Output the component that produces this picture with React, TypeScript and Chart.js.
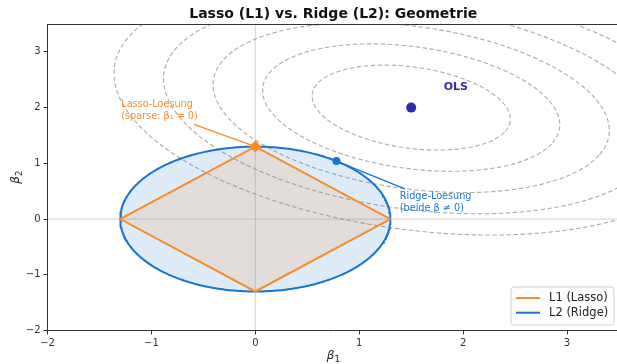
import React, { useEffect, useRef } from 'react';
import { Chart, registerables } from 'chart.js';

Chart.register(...registerables);

// ---- data ----
const xRange = [-2, 3.5];
const yRange = [-2, 3.5];
const tickValues = [-2, -1, 0, 1, 2, 3];
const olsPoint = [1.5, 2.0];
const lassoSolution = [0.0, 1.3];
const ridgeSolution = [0.78, 1.04];
const constraintRadius = [1.3];
const contourSemiMajor = [1.0, 1.5, 2.0, 2.5, 3.0];
const contourAspect = [0.7];
const contourAngleDeg = [-25];
const seriesLabels = ['L1 (Lasso)', 'L2 (Ridge)'];
const lassoNote = ['Lasso-Loesung', '(sparse: \u03b2\u2081 = 0)'];
const ridgeNote = ['Ridge-Loesung', '(beide \u03b2 \u2260 0)'];
const olsLabel = ['OLS'];
const titleText = 'Lasso (L1) vs. Ridge (L2): Geometrie';
const lassoNoteStart = [-0.59, 1.7];
const ridgeNoteStart = [1.44, 0.54];
const lassoNoteText = [-1.29, 2.05];
const ridgeNoteText = [1.39, 0.4];
const olsLabelText = [1.93, 2.37];

// ---- styles ----
const ORANGE = '#FA8C2C';
const BLUE = '#1874D2';
const OLS_COLOR = '#2D2DB0';
const FONT = 'DejaVu Sans';

function ellipsePoints(cx: number, cy: number, a: number, b: number, angDeg: number, n = 360) {
  const th = (angDeg * Math.PI) / 180;
  const c = Math.cos(th);
  const s = Math.sin(th);
  const pts: { x: number; y: number }[] = [];
  for (let i = 0; i <= n; i++) {
    const t = (2 * Math.PI * i) / n;
    const u = a * Math.cos(t);
    const v = b * Math.sin(t);
    pts.push({ x: cx + u * c - v * s, y: cy + u * s + v * c });
  }
  return pts;
}

function fmt(v: number) {
  return String(v).replace('-', '\u2212');
}

const polyFillPlugin = {
  id: 'polyFill',
  beforeDatasetDraw(chart: any, args: any) {
    const ds: any = chart.data.datasets[args.index];
    if (!ds.polyFill) return;
    const pts = args.meta.data;
    if (!pts.length) return;
    const ctx = chart.ctx;
    const ca = chart.chartArea;
    ctx.save();
    ctx.beginPath();
    ctx.rect(ca.left, ca.top, ca.right - ca.left, ca.bottom - ca.top);
    ctx.clip();
    ctx.beginPath();
    pts.forEach((p: any, i: number) => (i === 0 ? ctx.moveTo(p.x, p.y) : ctx.lineTo(p.x, p.y)));
    ctx.closePath();
    ctx.fillStyle = ds.polyFill;
    ctx.fill();
    ctx.restore();
  },
};

const decorPlugin = {
  id: 'decor',
  afterDraw(chart: any) {
    const ctx = chart.ctx;
    const ca = chart.chartArea;
    const xs = chart.scales.x;
    const ys = chart.scales.y;
    ctx.save();
    // frame top / right
    ctx.strokeStyle = '#333';
    ctx.lineWidth = 1;
    ctx.beginPath();
    ctx.moveTo(Math.round(ca.left) - 0.5, Math.round(ca.top) + 0.5);
    ctx.lineTo(ca.right, Math.round(ca.top) + 0.5);
    ctx.lineTo(ca.right, ca.bottom);
    ctx.stroke();

    // title
    ctx.fillStyle = '#111';
    ctx.font = `bold 14px "${FONT}"`;
    ctx.textAlign = 'center';
    ctx.textBaseline = 'middle';
    ctx.fillText(titleText, (ca.left + ca.right) / 2, 14);

    // axis titles
    const drawBeta = (sub: string, cx: number, cy: number) => {
      ctx.font = `italic 12px "${FONT}"`;
      const w1 = ctx.measureText('\u03b2').width;
      ctx.font = `8.5px "${FONT}"`;
      const w2 = ctx.measureText(sub).width;
      const x0 = cx - (w1 + w2) / 2;
      ctx.textAlign = 'left';
      ctx.textBaseline = 'alphabetic';
      ctx.font = `italic 12px "${FONT}"`;
      ctx.fillText('\u03b2', x0, cy + 4);
      ctx.font = `8.5px "${FONT}"`;
      ctx.fillText(sub, x0 + w1, cy + 6.5);
    };
    ctx.fillStyle = '#222';
    drawBeta('1', (ca.left + ca.right) / 2, 355);
    ctx.save();
    ctx.translate(15, (ca.top + ca.bottom) / 2);
    ctx.rotate(-Math.PI / 2);
    drawBeta('2', 0, 0);
    ctx.restore();

    // annotation texts
    ctx.font = `9.7px "${FONT}"`;
    ctx.textAlign = 'left';
    ctx.textBaseline = 'middle';
    ctx.fillStyle = ORANGE;
    const lx = xs.getPixelForValue(lassoNoteText[0]);
    const ly = ys.getPixelForValue(lassoNoteText[1]);
    lassoNote.forEach((t, i) => ctx.fillText(t, lx, ly + i * 11.5));
    ctx.fillStyle = BLUE;
    const rx = xs.getPixelForValue(ridgeNoteText[0]);
    const ry = ys.getPixelForValue(ridgeNoteText[1]);
    ridgeNote.forEach((t, i) => ctx.fillText(t, rx, ry + i * 11.5));

    // OLS label
    ctx.fillStyle = OLS_COLOR;
    ctx.font = `bold 11px "${FONT}"`;
    ctx.textAlign = 'center';
    ctx.fillText(olsLabel[0], xs.getPixelForValue(olsLabelText[0]), ys.getPixelForValue(olsLabelText[1]));

    // legend
    const lw = 103;
    const lh = 38;
    const lxr = ca.right - 5;
    const lyb = ca.bottom - 5.5;
    const bx = lxr - lw;
    const by = lyb - lh;
    ctx.beginPath();
    const r = 3;
    ctx.moveTo(bx + r, by);
    ctx.lineTo(bx + lw - r, by);
    ctx.quadraticCurveTo(bx + lw, by, bx + lw, by + r);
    ctx.lineTo(bx + lw, by + lh - r);
    ctx.quadraticCurveTo(bx + lw, by + lh, bx + lw - r, by + lh);
    ctx.lineTo(bx + r, by + lh);
    ctx.quadraticCurveTo(bx, by + lh, bx, by + lh - r);
    ctx.lineTo(bx, by + r);
    ctx.quadraticCurveTo(bx, by, bx + r, by);
    ctx.closePath();
    ctx.fillStyle = 'rgba(255,255,255,0.85)';
    ctx.fill();
    ctx.strokeStyle = '#d0d0d0';
    ctx.lineWidth = 1;
    ctx.stroke();
    const colors = [ORANGE, BLUE];
    seriesLabels.forEach((lab, i) => {
      const yy = by + 11 + i * 14.7;
      ctx.strokeStyle = colors[i];
      ctx.lineWidth = 2;
      ctx.beginPath();
      ctx.moveTo(bx + 5, yy);
      ctx.lineTo(bx + 29, yy);
      ctx.stroke();
      ctx.fillStyle = '#222';
      ctx.font = `11.5px "${FONT}"`;
      ctx.textAlign = 'left';
      ctx.textBaseline = 'middle';
      ctx.fillText(lab, bx + 38, yy);
    });
    ctx.restore();
  },
};

export default function App() {
  const ref = useRef<HTMLCanvasElement | null>(null);
  useEffect(() => {
    document.body.style.margin = '0';
    const canvas = ref.current;
    if (!canvas) return;
    const R = constraintRadius[0];
    const circle = ellipsePoints(0, 0, R, R, 0, 360);
    const diamond = [
      { x: R, y: 0 },
      { x: 0, y: R },
      { x: -R, y: 0 },
      { x: 0, y: -R },
      { x: R, y: 0 },
    ];
    const contourSets = contourSemiMajor.map((a) => ({
      data: ellipsePoints(olsPoint[0], olsPoint[1], a, a * contourAspect[0], contourAngleDeg[0], 400),
      showLine: true,
      borderColor: 'rgba(150,150,150,0.8)',
      borderWidth: 1.1,
      borderDash: [4.5, 2.5],
      pointRadius: 0,
      order: 9,
    }));
    const datasets: any[] = [
      {
        data: [
          { x: 0, y: yRange[0] },
          { x: 0, y: yRange[1] },
        ],
        showLine: true,
        borderColor: 'rgba(0,0,0,0.14)',
        borderWidth: 1.2,
        pointRadius: 0,
        order: 10,
      },
      {
        data: [
          { x: xRange[0], y: 0 },
          { x: xRange[1], y: 0 },
        ],
        showLine: true,
        borderColor: 'rgba(0,0,0,0.14)',
        borderWidth: 1.2,
        pointRadius: 0,
        order: 10,
      },
      ...contourSets,
      {
        label: seriesLabels[1],
        data: circle,
        showLine: true,
        borderColor: BLUE,
        borderWidth: 2,
        pointRadius: 0,
        polyFill: 'rgba(24,116,210,0.14)',
        order: 8,
      },
      {
        label: seriesLabels[0],
        data: diamond,
        showLine: true,
        borderColor: ORANGE,
        borderWidth: 2,
        pointRadius: 0,
        polyFill: 'rgba(250,140,44,0.15)',
        order: 7,
      },
      {
        data: [
          { x: lassoNoteStart[0], y: lassoNoteStart[1] },
          { x: lassoSolution[0], y: lassoSolution[1] },
        ],
        showLine: true,
        borderColor: ORANGE,
        borderWidth: 1.3,
        pointRadius: 0,
        order: 3,
      },
      {
        data: [
          { x: ridgeNoteStart[0], y: ridgeNoteStart[1] },
          { x: ridgeSolution[0], y: ridgeSolution[1] },
        ],
        showLine: true,
        borderColor: BLUE,
        borderWidth: 1.3,
        pointRadius: 0,
        order: 3,
      },
      {
        data: [{ x: lassoSolution[0], y: lassoSolution[1] }],
        pointStyle: 'rectRot',
        pointRadius: 6,
        backgroundColor: ORANGE,
        borderColor: ORANGE,
        borderWidth: 0,
        order: 1,
      },
      {
        data: [{ x: ridgeSolution[0], y: ridgeSolution[1] }],
        pointRadius: 4,
        backgroundColor: BLUE,
        borderColor: BLUE,
        borderWidth: 0,
        order: 1,
      },
      {
        data: [{ x: olsPoint[0], y: olsPoint[1] }],
        pointRadius: 5,
        backgroundColor: OLS_COLOR,
        borderColor: OLS_COLOR,
        borderWidth: 0,
        order: 1,
      },
    ];

    const tickCfg = {
      font: { family: FONT, size: 10 },
      color: '#333',
      maxRotation: 0,
      autoSkip: false,
      includeBounds: false,
      callback: (v: any) => fmt(Number(v)),
    };
    const gridCfg = {
      display: true,
      drawOnChartArea: false,
      drawTicks: true,
      tickLength: 4,
      color: '#333',
      lineWidth: 1,
    };

    const chart = new Chart(canvas, {
      type: 'scatter',
      data: { datasets },
      plugins: [polyFillPlugin, decorPlugin],
      options: {
        animation: false,
        responsive: false,
        devicePixelRatio: 1,
        layout: { padding: { left: 0, right: 5, top: 24, bottom: 0 } },
        plugins: { legend: { display: false }, tooltip: { enabled: false }, title: { display: false } },
        elements: { line: { tension: 0 } },
        scales: {
          x: {
            type: 'linear',
            min: xRange[0],
            max: xRange[1],
            afterBuildTicks: (s: any) => {
              s.ticks = tickValues.map((v) => ({ value: v }));
            },
            ticks: { ...tickCfg, padding: 3 },
            grid: gridCfg,
            border: { display: true, color: '#333', width: 1 },
            afterFit: (s: any) => {
              s.height = 33.5;
            },
          },
          y: {
            type: 'linear',
            min: yRange[0],
            max: yRange[1],
            afterBuildTicks: (s: any) => {
              s.ticks = tickValues.map((v) => ({ value: v }));
            },
            ticks: { ...tickCfg, padding: 3 },
            grid: gridCfg,
            border: { display: true, color: '#333', width: 1 },
            afterFit: (s: any) => {
              s.width = 47.5;
            },
          },
        },
      } as any,
    });
    return () => chart.destroy();
  }, []);

  return (
    <div style={{ position: 'absolute', left: 0, top: 0, width: 617, height: 364, overflow: 'hidden', background: '#fff' }}>
      <canvas ref={ref} width={625} height={364} style={{ display: 'block', width: 625, height: 364 }} />
    </div>
  );
}
